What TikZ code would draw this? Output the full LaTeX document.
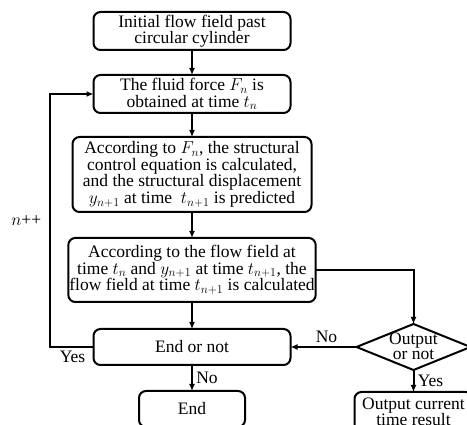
\documentclass[tikz,border=0pt]{standalone}
\usepackage{fontspec}
\setmainfont{Liberation Serif}
\usetikzlibrary{arrows.meta,positioning,shapes.geometric}

\begin{document}
\begin{tikzpicture}[
node distance=25pt and 66pt,
box/.style={draw,rounded corners=7pt,line width=2pt,outer sep=0pt,align=center,inner sep=1pt,font=\fontsize{17.5}{16.5}\selectfont},
decision/.style={draw,diamond,line width=2pt,outer sep=0pt,minimum width=114pt,minimum height=46pt,inner sep=0pt},
lbl/.style={font=\fontsize{17.5}{15}\selectfont},
arr/.style={-{Latex[length=7pt,width=6pt]},line width=2pt}]
\useasboundingbox (0,0) rectangle (467pt,-425pt);
\node[box,minimum width=197pt,minimum height=38pt] (init) at (192pt,-31pt) {Initial flow field past\\circular cylinder};
\node[box,minimum width=197pt,minimum height=38pt,below=25pt of init] (force) {The fluid force $F_n$ is\\obtained at time $t_n$};
\node[box,minimum width=239pt,minimum height=75pt,below=24pt of force] (struct) {According to $F_n$, the structural\\control equation is calculated,\\and the structural displacement\\$y_{n+1}$ at time\ \ $t_{n+1}$ is predicted};
\node[box,minimum width=239pt,minimum height=64pt,below=26pt of struct] (flow) {According to the flow field at\\time $t_n$ and $y_{n+1}$ at time $t_{n+1}$, the\\flow field at time $t_{n+1}$ is calculated};
\node[box,minimum width=197pt,minimum height=36pt,below=27pt of flow] (endq) {End or not};
\node[box,minimum width=106pt,minimum height=36pt,below=26pt of endq] (stop) {End};
\node[decision,right=66pt of endq] (outq) {};
\node[lbl,align=center,yshift=1pt] (outtxt) at (outq) {Output\\or not};
\node[box,minimum width=118pt,minimum height=40pt,below=22pt of outq] (result) {Output current\\time result};
\draw[arr] (init) -- (force);
\draw[arr] (force) -- (struct);
\draw[arr] (struct) -- (flow);
\draw[arr] (flow) -- (endq);
\draw[arr] (endq) -- node[lbl,right] (no1) {No} (stop);
\draw[arr] (flow.east) -| (outq.north);
\draw[arr] (outq.west) -- node[lbl,above,xshift=3pt] (no2) {No} (endq.east);
\draw[arr] (outq.south) -- node[lbl,right] (yes2) {Yes} (result);
\draw[arr] (endq.west) -- ++(-44pt,0) coordinate (loop)
  node[lbl,below right,xshift=6pt] (yes1) {Yes}
  |- node[lbl,left,pos=0.25,xshift=-4pt] (inc) {$n$++} (force.west);
\end{tikzpicture}
\end{document}
